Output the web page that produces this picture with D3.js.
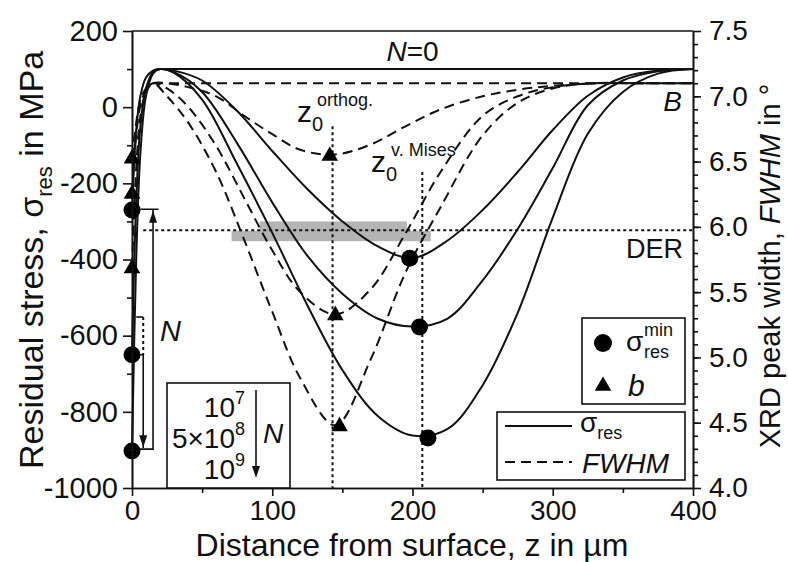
<!DOCTYPE html>
<html>
<head>
<meta charset="utf-8">
<style>
  body { margin: 0; background: #fff; }
  text { font-family: "Liberation Sans", Arial, sans-serif; fill: #111; }
</style>
</head>
<body>
<svg id="chart" width="788" height="562"></svg>
<script src="https://d3js.org/d3.v7.min.js"></script>
<script>
// depth grid of the residual stress profiles (µm) and the values in MPa
const zStress = [0, 3, 6, 10, 15, 20, 30, 50, 75, 100, 125, 150, 175, 200, 225, 250, 275, 300, 325, 350, 375, 400]
const stress1e7 = [-270, -60, 30, 78, 96, 100, 96, 70, -10, -115, -215, -300, -365, -396, -350, -270, -170, -60, 30, 78, 96, 100]
const stress5e8 = [-650, -250, -50, 50, 92, 100, 92, 40, -95, -250, -390, -490, -555, -576, -555, -455, -320, -160, 5, 70, 94, 100]
const stress1e9 = [-900, -400, -120, 30, 88, 100, 90, 20, -150, -330, -520, -690, -810, -862, -845, -730, -540, -290, -70, 40, 88, 100]

// depth grid of the FWHM profiles (µm) and the peak widths in degrees
const zFwhm = [0, 3, 6, 10, 15, 25, 40, 60, 80, 100, 120, 145, 170, 195, 220, 250, 275, 300, 330, 360, 400]
const fwhm1e7 = [6.53, 6.8, 6.97, 7.06, 7.1, 7.1, 7.07, 7.0, 6.85, 6.71, 6.59, 6.555, 6.63, 6.77, 6.9, 7.0, 7.05, 7.08, 7.1, 7.1, 7.1]
const fwhm5e8 = [6.26, 6.7, 6.93, 7.05, 7.1, 7.06, 6.92, 6.62, 6.22, 5.82, 5.5, 5.33, 5.52, 5.95, 6.42, 6.85, 7.0, 7.07, 7.1, 7.1, 7.1]
const fwhm1e9 = [5.69, 6.45, 6.85, 7.03, 7.1, 7.0, 6.8, 6.42, 5.9, 5.35, 4.84, 4.48, 4.98, 5.65, 6.15, 6.7, 6.95, 7.06, 7.1, 7.1, 7.1]

// N = 0 reference levels
const stressN0 = 100
const fwhmN0 = 7.1

// marker points
const sigmaMinZ = [0, 0, 0, 198, 205, 211]
const sigmaMinVal = [-270, -650, -903, -397, -577, -869]
const bZ = [0, 0, 0, 141, 145, 148]
const bVal = [6.53, 6.26, 5.69, 6.55, 5.33, 4.48]

// depth of the zero crossing of the shear stress criteria, DER level
const z0Orthog = 143
const z0Mises = 207
const derLevel = -323

const xTicks = [0, 100, 200, 300, 400]
const yLeftTicks = [-1000, -800, -600, -400, -200, 0, 200]
const yRightTicks = [4.0, 4.5, 5.0, 5.5, 6.0, 6.5, 7.0, 7.5]

const svg = d3.select("#chart")
const x = d3.scaleLinear().domain([0, 400]).range([132, 693])
const yL = d3.scaleLinear().domain([-1000, 200]).range([488, 31])
const yR = d3.scaleLinear().domain([4.0, 7.5]).range([488, 31])

svg.append("rect").attr("width", 788).attr("height", 562).attr("fill", "#fff")

// gray band of the DER scatter
svg.append("rect")
    .attr("x", x(91)).attr("y", yL(-300))
    .attr("width", x(196) - x(91)).attr("height", yL(-327) - yL(-300))
    .attr("fill", "#b4b4b4")
svg.append("rect")
    .attr("x", x(71)).attr("y", yL(-325))
    .attr("width", x(213) - x(71)).attr("height", yL(-352) - yL(-325))
    .attr("fill", "#b4b4b4")

// dotted guide lines
const dotted = svg.append("g").attr("stroke", "#111").attr("stroke-width", 2).attr("stroke-dasharray", "3,3")
dotted.append("line").attr("x1", x(8)).attr("x2", x(400)).attr("y1", yL(derLevel)).attr("y2", yL(derLevel))
dotted.append("line").attr("x1", x(z0Orthog)).attr("x2", x(z0Orthog)).attr("y1", yL(-50)).attr("y2", yL(-1000))
dotted.append("line").attr("x1", x(z0Mises)).attr("x2", x(z0Mises)).attr("y1", yL(-170)).attr("y2", yL(-1000))

// curves
const lineL = d3.line().x(d => x(d[0])).y(d => yL(d[1])).curve(d3.curveCatmullRom.alpha(0.5))
const lineR = d3.line().x(d => x(d[0])).y(d => yR(d[1])).curve(d3.curveCatmullRom.alpha(0.5))

const curves = svg.append("g").attr("fill", "none").attr("stroke", "#111").attr("stroke-width", 2)
curves.selectAll(".stress")
    .data([stress1e7, stress5e8, stress1e9])
    .enter()
    .append("path")
        .attr("class", "stress")
        .attr("d", vals => lineL(vals.map((v, i) => [zStress[i], v])))
curves.selectAll(".fwhm")
    .data([fwhm1e7, fwhm5e8, fwhm1e9])
    .enter()
    .append("path")
        .attr("class", "fwhm")
        .attr("stroke-dasharray", "10,6")
        .attr("d", vals => lineR(vals.map((v, i) => [zFwhm[i], v])))

curves.append("line").attr("x1", x(18)).attr("x2", x(400)).attr("y1", yL(stressN0)).attr("y2", yL(stressN0))
curves.append("line").attr("x1", x(15)).attr("x2", x(400)).attr("y1", yR(fwhmN0)).attr("y2", yR(fwhmN0))
    .attr("stroke-dasharray", "10,6")

// N arrows near the surface
const arrows = svg.append("g").attr("stroke", "#111").attr("stroke-width", 1.6).attr("fill", "none")
arrows.append("path").attr("d", `M${x(6)},${yL(-268)}H${x(19)}M${x(15)},${yL(-268)}V${yL(-898)}H${x(3)}`)
arrows.append("path").attr("d", `M${x(3)},${yL(-650)}H${x(8)}V${yL(-895)}`)
arrows.append("path").attr("d", `M${x(3)},${yL(-551)}H${x(8)}`)
arrows.append("path").attr("d", `M${x(8)},${yL(-551)}V${yL(-650)}`).attr("stroke-dasharray", "3,3").attr("stroke-width", 2)
svg.append("path").attr("fill", "#111")
    .attr("d", `M${x(15)},${yL(-272)}l-4,12h8z`)
svg.append("path").attr("fill", "#111")
    .attr("d", `M${x(8)},${yL(-893)}l-4,-12h8z`)
svg.append("text").attr("x", 160).attr("y", 341).attr("font-size", 29).attr("font-style", "italic").text("N")

// markers
svg.selectAll(".dot")
    .data(sigmaMinZ)
    .enter()
    .append("circle")
        .attr("cx", (d, i) => x(d))
        .attr("cy", (d, i) => yL(sigmaMinVal[i]))
        .attr("r", 8.5)
        .attr("fill", "#000")
const tri = d3.symbol().type(d3.symbolTriangle).size(120)
svg.selectAll(".tri")
    .data(bZ)
    .enter()
    .append("path")
        .attr("d", tri)
        .attr("transform", (d, i) => `translate(${x(d)},${yR(bVal[i]) + 1})`)
        .attr("fill", "#000")

// axes
const axisStyle = size => g => {
    g.select(".domain").attr("stroke", "#111").attr("stroke-width", 1.6)
    g.selectAll(".tick line").attr("stroke", "#111").attr("stroke-width", 1.6)
    g.selectAll(".tick text").attr("font-size", size).attr("fill", "#111")
        .attr("font-family", "Liberation Sans, Arial, sans-serif")
}
svg.append("g").attr("transform", "translate(0,488)")
    .call(d3.axisBottom(x).tickValues(d3.range(50, 400, 100)).tickSize(5).tickFormat("").tickSizeOuter(0))
    .call(axisStyle(28))
svg.append("g").attr("transform", "translate(0,488)")
    .call(d3.axisBottom(x).tickValues(xTicks).tickSize(8).tickPadding(4).tickSizeOuter(0))
    .call(axisStyle(28))
svg.append("g").attr("transform", "translate(132,0)")
    .call(d3.axisLeft(yL).tickValues(d3.range(-900, 200, 200)).tickSize(5).tickFormat("").tickSizeOuter(0))
    .call(axisStyle(28))
svg.append("g").attr("transform", "translate(132,0)")
    .call(d3.axisLeft(yL).tickValues(yLeftTicks).tickSize(9).tickPadding(5).tickFormat(d => String(d)).tickSizeOuter(0))
    .call(axisStyle(29))
svg.append("g").attr("transform", "translate(693,0)")
    .call(d3.axisRight(yR).tickValues(d3.range(41, 75, 1).map(v => v / 10)).tickSize(5).tickFormat("").tickSizeOuter(0))
    .call(axisStyle(28))
svg.append("g").attr("transform", "translate(693,0)")
    .call(d3.axisRight(yR).tickValues(yRightTicks).tickSize(8).tickPadding(8).tickFormat(d3.format(".1f")).tickSizeOuter(0))
    .call(axisStyle(28))
svg.append("line").attr("x1", x(0)).attr("x2", x(400)).attr("y1", yL(200)).attr("y2", yL(200))
    .attr("stroke", "#111").attr("stroke-width", 1.6)

// axis titles
const leftTitle = svg.append("text").attr("transform", "translate(43,260) rotate(-90)")
    .attr("text-anchor", "middle").attr("font-size", 34)
leftTitle.append("tspan").text("Residual stress, σ")
leftTitle.append("tspan").attr("font-size", 22).attr("dy", 9).text("res")
leftTitle.append("tspan").attr("dy", -9).text(" in MPa")

const rightTitle = svg.append("text").attr("transform", "translate(780,266) rotate(-90)")
    .attr("text-anchor", "middle").attr("font-size", 29)
rightTitle.append("tspan").text("XRD peak width, ")
rightTitle.append("tspan").attr("font-style", "italic").text("FWHM")
rightTitle.append("tspan").text(" in °")

svg.append("text").attr("x", 412).attr("y", 556).attr("text-anchor", "middle").attr("font-size", 32)
    .text("Distance from surface, z in µm")

// in-plot labels
const n0 = svg.append("text").attr("x", x(200)).attr("y", 61).attr("text-anchor", "middle").attr("font-size", 28)
n0.append("tspan").attr("font-style", "italic").text("N")
n0.append("tspan").text("=0")
svg.append("text").attr("x", 682).attr("y", 111).attr("text-anchor", "end").attr("font-size", 28)
    .attr("font-style", "italic").text("B")
svg.append("text").attr("x", 683).attr("y", 258).attr("text-anchor", "end").attr("font-size", 27).text("DER")

function zLabel(px, py, sup) {
    svg.append("text").attr("x", px).attr("y", py).attr("font-size", 30).text("z")
    svg.append("text").attr("x", px + 15).attr("y", py + 9).attr("font-size", 20).text("0")
    svg.append("text").attr("x", px + 20).attr("y", py - 16).attr("font-size", 18).text(sup)
}
zLabel(297, 122, "orthog.")
zLabel(371, 172, "v. Mises")

// legend: markers
const lg1 = svg.append("g")
lg1.append("rect").attr("x", 582).attr("y", 318).attr("width", 103).attr("height", 86)
    .attr("fill", "#fff").attr("stroke", "#111").attr("stroke-width", 1.6)
lg1.append("circle").attr("cx", 603).attr("cy", 343).attr("r", 9).attr("fill", "#000")
lg1.append("text").attr("x", 626).attr("y", 351).attr("font-size", 28).text("σ")
lg1.append("text").attr("x", 644).attr("y", 336).attr("font-size", 18).text("min")
lg1.append("text").attr("x", 644).attr("y", 358).attr("font-size", 18).text("res")
lg1.append("path").attr("d", tri).attr("transform", "translate(603,386)").attr("fill", "#000")
lg1.append("text").attr("x", 628).attr("y", 396).attr("font-size", 30).attr("font-style", "italic").text("b")

// legend: lines
const lg2 = svg.append("g")
lg2.append("rect").attr("x", 497).attr("y", 412).attr("width", 188).attr("height", 68)
    .attr("fill", "#fff").attr("stroke", "#111").attr("stroke-width", 1.6)
lg2.append("line").attr("x1", 505).attr("x2", 572).attr("y1", 426).attr("y2", 426).attr("stroke", "#111").attr("stroke-width", 2)
lg2.append("line").attr("x1", 505).attr("x2", 572).attr("y1", 462).attr("y2", 462).attr("stroke", "#111").attr("stroke-width", 2)
    .attr("stroke-dasharray", "10,6")
const s2 = lg2.append("text").attr("x", 580).attr("y", 432).attr("font-size", 28)
s2.append("tspan").text("σ")
s2.append("tspan").attr("font-size", 18).attr("dy", 7).text("res")
lg2.append("text").attr("x", 582).attr("y", 473).attr("font-size", 28).attr("font-style", "italic").text("FWHM")

// legend: cycle numbers
const lg3 = svg.append("g")
lg3.append("rect").attr("x", 167).attr("y", 383).attr("width", 123).attr("height", 105)
    .attr("fill", "#fff").attr("stroke", "#111").attr("stroke-width", 1.6)
const nLabels = [["10", "7", 417], ["5×10", "8", 448], ["10", "9", 479]]
nLabels.forEach(([base, ex, yy]) => {
    const t = lg3.append("text").attr("x", 245).attr("y", yy).attr("font-size", 28).attr("text-anchor", "end")
    t.append("tspan").text(base)
    t.append("tspan").attr("font-size", 18).attr("dy", -13).text(ex)
})
lg3.append("line").attr("x1", 256).attr("x2", 256).attr("y1", 390).attr("y2", 466).attr("stroke", "#111").attr("stroke-width", 1.6)
lg3.append("path").attr("d", "M256,478l-4,-12h8z").attr("fill", "#111")
lg3.append("text").attr("x", 263).attr("y", 443).attr("font-size", 28).attr("font-style", "italic").text("N")
</script>
</body>
</html>
